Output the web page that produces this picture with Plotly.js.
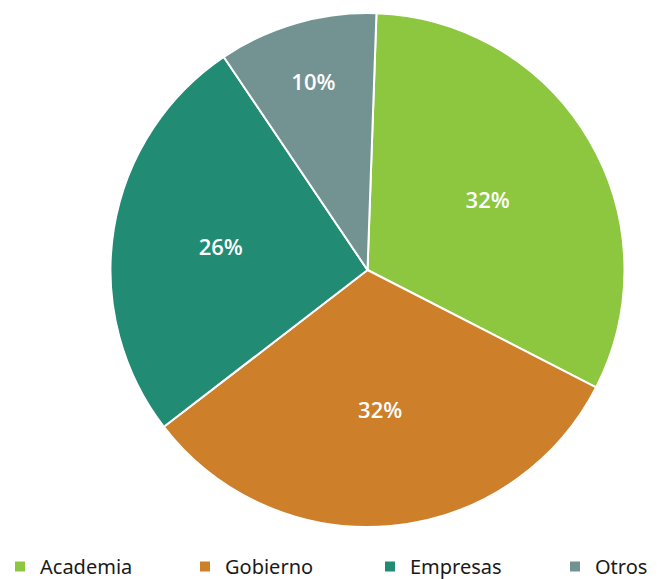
<!DOCTYPE html>
<html>
<head>
<meta charset="utf-8">
<script src="https://cdn.plot.ly/plotly-3.0.1.min.js"></script>
<style>html,body{margin:0;padding:0;background:#fff;overflow:hidden;}#wrap{width:657px;height:579px;overflow:hidden;}#chart{width:760px;height:600px;}</style>
</head>
<body>
<div id="wrap"><div id="chart"></div></div>
<script>
const categories = ["Academia", "Gobierno", "Empresas", "Otros"];
const values = [32, 32, 26, 10];
const colors = ["#8DC63F", "#CD7F2A", "#218B73", "#739393"];

const trace = {
  type: "pie",
  labels: categories,
  values: values,
  sort: false,
  direction: "clockwise",
  rotation: 2,
  marker: { colors: colors, line: { color: "#ffffff", width: 2 } },
  textinfo: "percent",
  texttemplate: "%{percent:.0%}",
  textposition: "inside",
  insidetextorientation: "horizontal",
  insidetextfont: { color: "#ffffff", size: 22, family: "Open Sans, sans-serif", weight: 600 },
  hoverinfo: "label+percent",
  domain: { x: [0.05, 0.913], y: [0, 1] }
};

const layout = {
  width: 760,
  height: 600,
  margin: { l: 0, r: 0, t: 13, b: 73 },
  paper_bgcolor: "#ffffff",
  showlegend: true,
  legend: {
    orientation: "h",
    x: -0.004,
    xanchor: "left",
    y: -0.039,
    yanchor: "top",
    entrywidth: 140,
    font: { family: "Noto Sans, sans-serif", size: 20, color: "#1a1a1a" },
    itemwidth: 30,
    traceorder: "normal"
  }
};

Plotly.newPlot("chart", [trace], layout, { displayModeBar: false, staticPlot: true });
</script>
</body>
</html>
